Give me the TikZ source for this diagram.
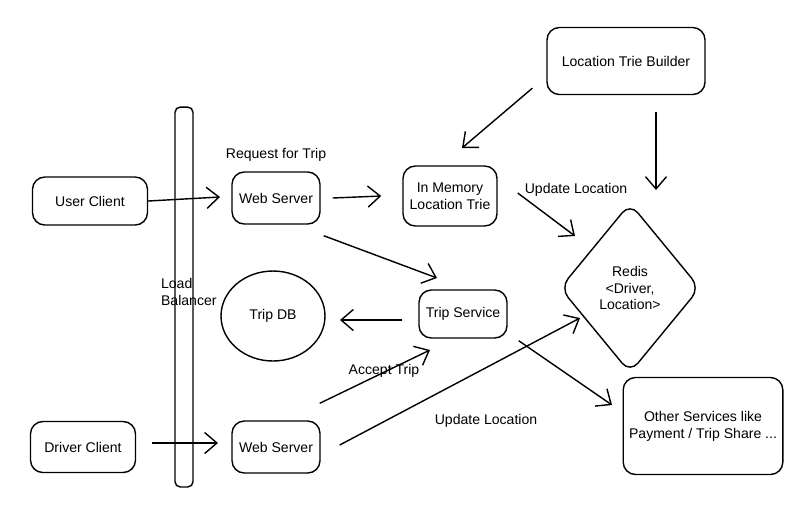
\documentclass[tikz,border=0pt]{standalone}
\usepackage{fontspec}
\setmainfont{Liberation Sans}
\usetikzlibrary{shapes.geometric,arrows.meta}
\begin{document}
\begin{tikzpicture}[x=0.02cm, y=-0.02cm, font=\fontsize{8}{9.6}\selectfont,
    box/.style={draw, thick, rounded corners=7pt, align=center},
    arr/.style={thick, -{Straight Barb[length=7pt,width=12pt]}},
    lbl/.style={inner sep=1pt}]
    \useasboundingbox (0,0) rectangle (800,529);
    \node[box, minimum width=2.3cm, minimum height=0.96cm] (user) at (90,201) {User Client};
    \node[box, minimum width=2.1cm, minimum height=1.02cm] (driver) at (83,447) {Driver Client};
    \node[draw, thick, rounded corners=3pt, minimum width=0.36cm, minimum height=7.6cm] (lb) at (184,297) {};
    \node[lbl, align=left, anchor=west] (lbtext) at (159,292) {Load\\Balancer};
    \node[box, minimum width=1.76cm, minimum height=1.04cm] (web1) at (276,198) {Web Server};
    \node[lbl] (req) at (276,155) {Request for Trip};
    \node[box, minimum width=1.76cm, minimum height=1.04cm] (web2) at (276,447) {Web Server};
    \node[box, minimum width=1.88cm, minimum height=1.2cm] (trie) at (450,196) {In Memory\\Location Trie};
    \node[box, minimum width=3.16cm, minimum height=1.34cm] (builder) at (626,61) {Location Trie Builder};
    \node[draw, thick, diamond, rounded corners=7pt, minimum width=2.8cm, minimum height=3.4cm, align=center] (redis) at (630,288) {Redis\\<Driver,\\Location>};
    \node[draw, thick, ellipse, minimum width=2.08cm, minimum height=1.8cm] (db) at (273,316) {Trip DB};
    \node[box, minimum width=1.76cm, minimum height=0.96cm] (trip) at (463,314) {Trip Service};
    \node[box, minimum width=3.06cm, minimum height=1.94cm] (other) at (703,426) {Other Services like\\Payment / Trip Share ...};

    \coordinate (c1) at (220,197);
    \coordinate (c2) at (462,148);
    \coordinate (c3) at (656,112);
    \coordinate (c4) at (656,190);
    \coordinate (c5) at (575,236);
    \coordinate (c6) at (437,278);
    \coordinate (c7) at (340,320);
    \coordinate (c8) at (430,350);
    \coordinate (c9) at (580,318);
    \coordinate (c10) at (612,405);
    \coordinate (c11) at (152,443);
    \coordinate (c12) at (218,443);
    \draw[arr] (user.east) -- (c1);
    \draw[arr] (c11) -- (c12);
    \draw[arr] (web1.east) ++(12,0) -- ([xshift=-12pt]trie.west);
    \draw[arr] (builder.south west) ++(-14,-7) -- (c2);
    \draw[arr] (c3) -- (c4);
    \draw[arr] (trie.east) ++(20,-3) -- (c5);
    \node[lbl] (upd1) at (576,190) {Update Location};
    \draw[arr] (web1.south east) ++(3,11) -- (c6);
    \draw[arr] (trip.west) ++(-16,6) -- (c7);
    \draw[arr] (web2.north east) ++(-1,-17) -- (c8);
    \node[lbl] (acc) at (384,371) {Accept Trip};
    \draw[arr] (web2.east) ++(19,-2) -- (c9);
    \node[lbl] (upd2) at (486,421) {Update Location};
    \draw[arr] (trip.south east) ++(11,2) -- (c10);
\end{tikzpicture}
\end{document}
